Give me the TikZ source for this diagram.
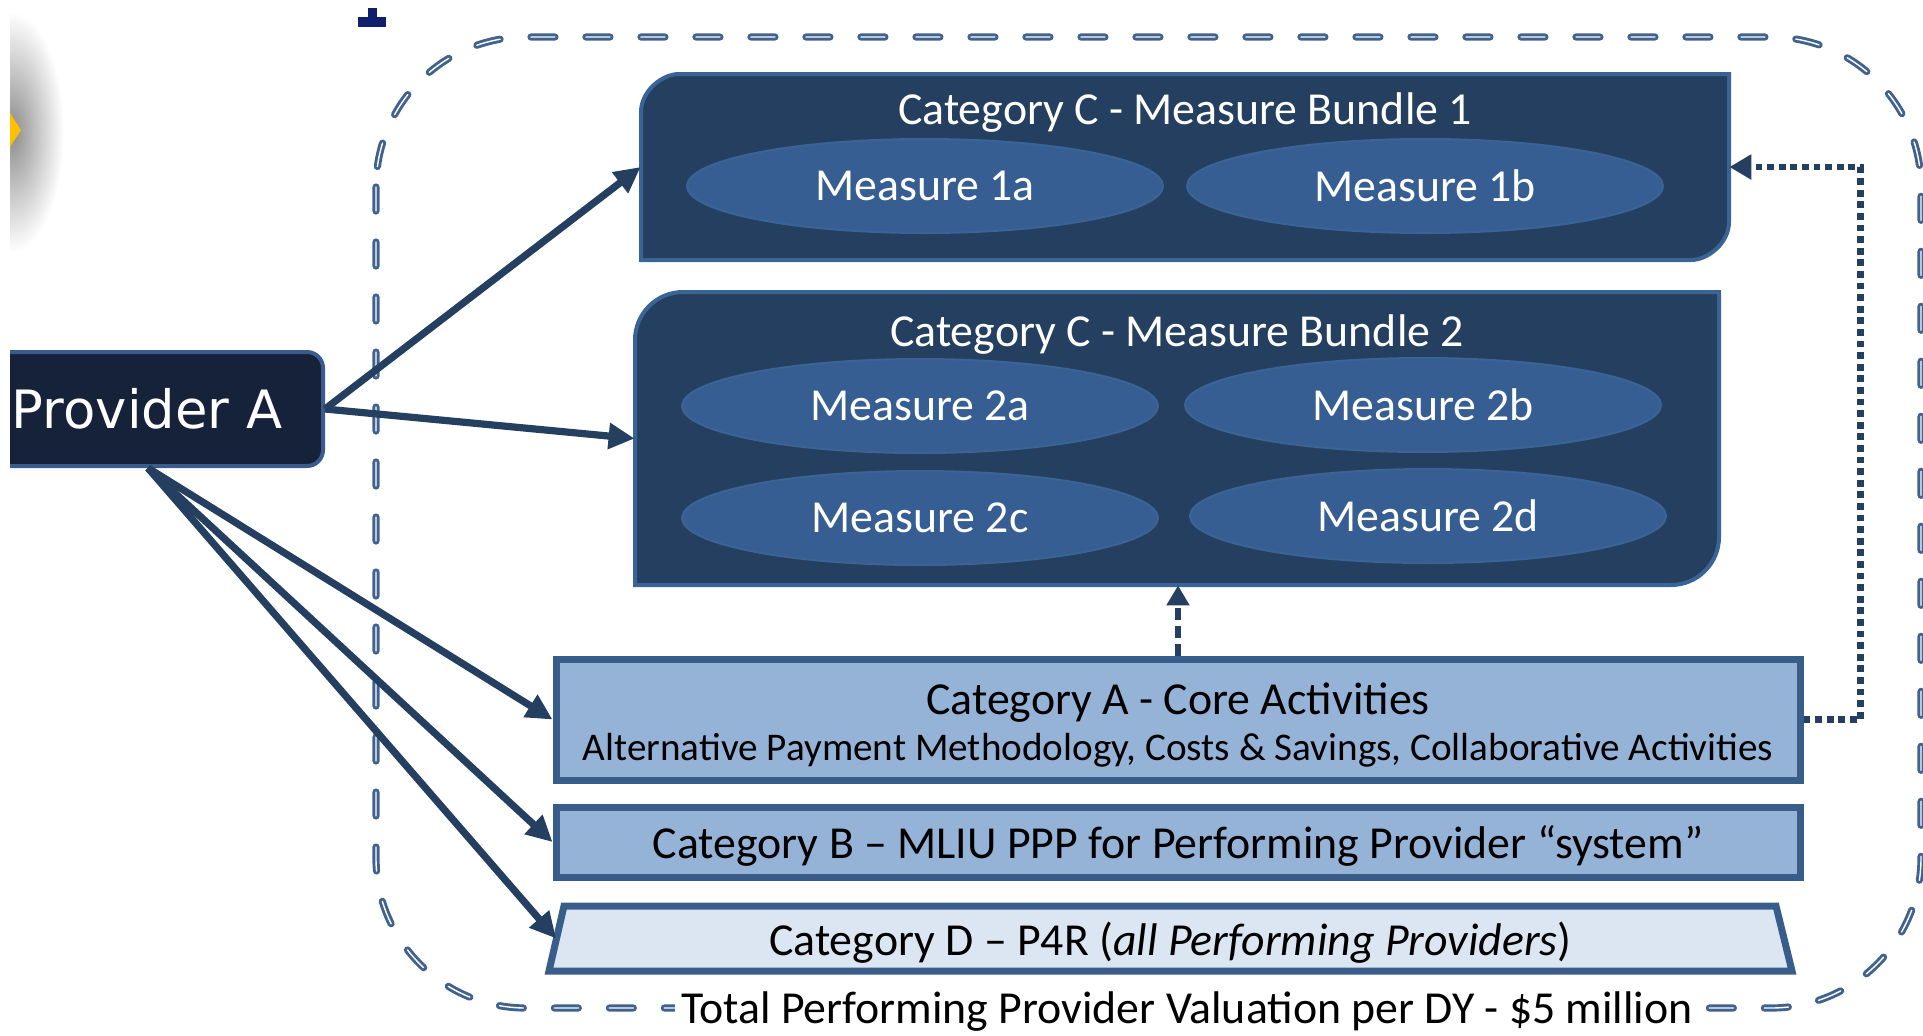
\documentclass[tikz,border=0pt]{standalone}
\usepackage{fontspec}
\setmainfont{Carlito}
\newfontfamily\provfont{DejaVu Sans}
\usetikzlibrary{arrows.meta,calc,shapes.geometric}
\definecolor{navyfill}{HTML}{253F60}
\definecolor{bundleborder}{HTML}{3B6496}
\definecolor{ellfill}{HTML}{365E92}
\definecolor{ellborder}{HTML}{3A6396}
\definecolor{provfill}{HTML}{16213A}
\definecolor{provborder}{HTML}{3A5C8C}
\definecolor{catfill}{HTML}{95B3D7}
\definecolor{bordblue}{HTML}{385D8A}
\definecolor{dfill}{HTML}{DCE6F2}
\definecolor{arrowc}{HTML}{243F60}
\definecolor{boundblue}{HTML}{41628E}
\definecolor{markblue}{HTML}{0E1F6B}
\definecolor{yellowc}{HTML}{FFC000}
\begin{document}
\begin{tikzpicture}[x=0.5pt,y=-0.5pt,
  txt/.style={font=\fontsize{22.9}{27}\selectfont},
  bundlebg/.style={fill=navyfill,draw=bundleborder,line width=2pt},
  btitle/.style={txt,text=white,inner sep=0pt},
  meas/.style={ellipse,fill=ellfill,draw=ellborder,line width=1pt,minimum width=238pt,minimum height=47pt,inner sep=0pt,txt,text=white},
  slot/.style={rectangle,inner sep=0pt,draw=none},
  lowtext/.style={text height=20pt,text depth=3.5pt},
  catbox/.style={rectangle,fill=catfill,draw=bordblue,line width=3.5pt,inner sep=0pt,txt,text=black},
  dbox/.style={fill=dfill,draw=bordblue,line width=3.5pt,line join=miter},
  pabox/.style={rectangle,rounded corners=8pt,fill=provfill,draw=provborder,line width=2pt,minimum height=57pt,text width=174.5pt,align=left,inner xsep=1pt,inner ysep=0pt,text=white,font=\provfont\fontsize{26.4}{30}\selectfont},
  link/.style={draw=arrowc,line width=3.6pt,-{Triangle[length=13pt,width=12.5pt]}},
  feed/.style={draw=arrowc,line width=3.4pt,dash pattern=on 3.4pt off 2.4pt,-{Triangle[length=11pt,width=12pt]}},
  lift/.style={draw=arrowc,line width=3.2pt,dash pattern=on 6pt off 3pt,-{Triangle[length=10pt,width=11pt]}},
  bound/.style={draw=boundblue,line width=3.6pt,line cap=round,dash pattern=on 12pt off 15.5pt,rounded corners=75pt},
  boundin/.style={draw=white,line width=0.7pt,line cap=round,dash pattern=on 12pt off 15.5pt,rounded corners=75pt},
]
\useasboundingbox (0,0) rectangle (1923,1035);
\clip (0,0) rectangle (1923,1035);

% remnants at the edges
\begin{scope}
  \clip (10,0) rectangle (200,300);
  \shade[inner color=black!45,outer color=white] (12,132) ellipse [x radius=26pt,y radius=60pt];
  \fill[yellowc] (10,113) -- (21,130) -- (10,147) -- cycle;
\end{scope}
\fill[markblue] (358,17) rectangle (386,27);
\fill[markblue] (368,8) rectangle (377,17);

% dashed boundary
\draw[bound] (376,37) rectangle (1921,1008);
\draw[boundin] (376,37) rectangle (1921,1008);

% provider
\begin{scope}
  \clip (10,0) rectangle (600,700);
  \node[pabox] (pa) at (146.5,409) {\hspace*{20pt}Provider A};
\end{scope}

% bundle 1
\node[slot,minimum width=544pt,minimum height=93pt] (b1) at (1185,167) {};
\filldraw[bundlebg] (641,260) -- (641,112) .. controls (641,91) and (662,74) .. (679,74) -- (1729,74) -- (1729,222) .. controls (1729,243) and (1708,260) .. (1691,260) -- cycle;
\node[btitle] (b1t) at (1185,113) {Category C - Measure Bundle 1};
\node[meas] (m1a) at (925,186) {Measure 1a};
\node[meas] (m1b) at (1425,186) {Measure 1b};

% bundle 2
\node[slot,minimum width=542pt,minimum height=146.5pt] (b2) at (1177,438.5) {};
\filldraw[bundlebg] (635,585) -- (635,340) .. controls (635,313.5) and (656.5,292) .. (683,292) -- (1719,292) -- (1719,537) .. controls (1719,563.5) and (1697.5,585) .. (1671,585) -- cycle;
\node[btitle] (b2t) at (1177,335) {Category C - Measure Bundle 2};
\node[meas] (m2a) at (920,406) {Measure 2a};
\node[meas] (m2b) at (1423,405) {Measure 2b};
\node[meas] (m2c) at (920,518) {Measure 2c};
\node[meas] (m2d) at (1428,516) {Measure 2d};

% categories
\node[catbox,minimum width=622pt,minimum height=60.5pt,align=center] (ca) at (1178,719.5)
  {\rule{0pt}{21pt}Category A - Core Activities\\[-4pt]{\fontsize{19.6}{22}\selectfont Alternative Payment Methodology, Costs \& Savings, Collaborative Activities}};
\node[catbox,lowtext,minimum width=622pt,minimum height=35pt] (cb) at (1178,842)
  {Category B -- MLIU PPP for Performing Provider “system”};
\filldraw[dbox] (564,906) -- (1776,906) -- (1792,971) -- (549,971) -- cycle;
\node[slot,txt,lowtext,minimum width=613.9pt,minimum height=32.5pt] (cd) at (1170.4,938.5)
  {Category D -- P4R (\textit{all Performing Providers})};

\node[txt,fill=white,inner xsep=3pt,inner ysep=1pt] (tot) at (1187,1012)
  {Total Performing Provider Valuation per DY - \$5 million};

% connectors
\coordinate (pab) at ($(pa.south west)!0.504!(pa.south east)$);
\draw[link] (pa.east) -- (b1.west);
\draw[link] (pa.east) -- (b2.west);
\draw[link] (pab) -- (ca.west);
\draw[link] (pab) -- (cb.west);
\draw[link] (pab) -- (cd.west);
\draw[feed] (ca.east) -- ++(57,0) |- (b1.east);
\draw[lift] (ca.north) -- (ca.north |- b2.south);
\end{tikzpicture}
\end{document}
